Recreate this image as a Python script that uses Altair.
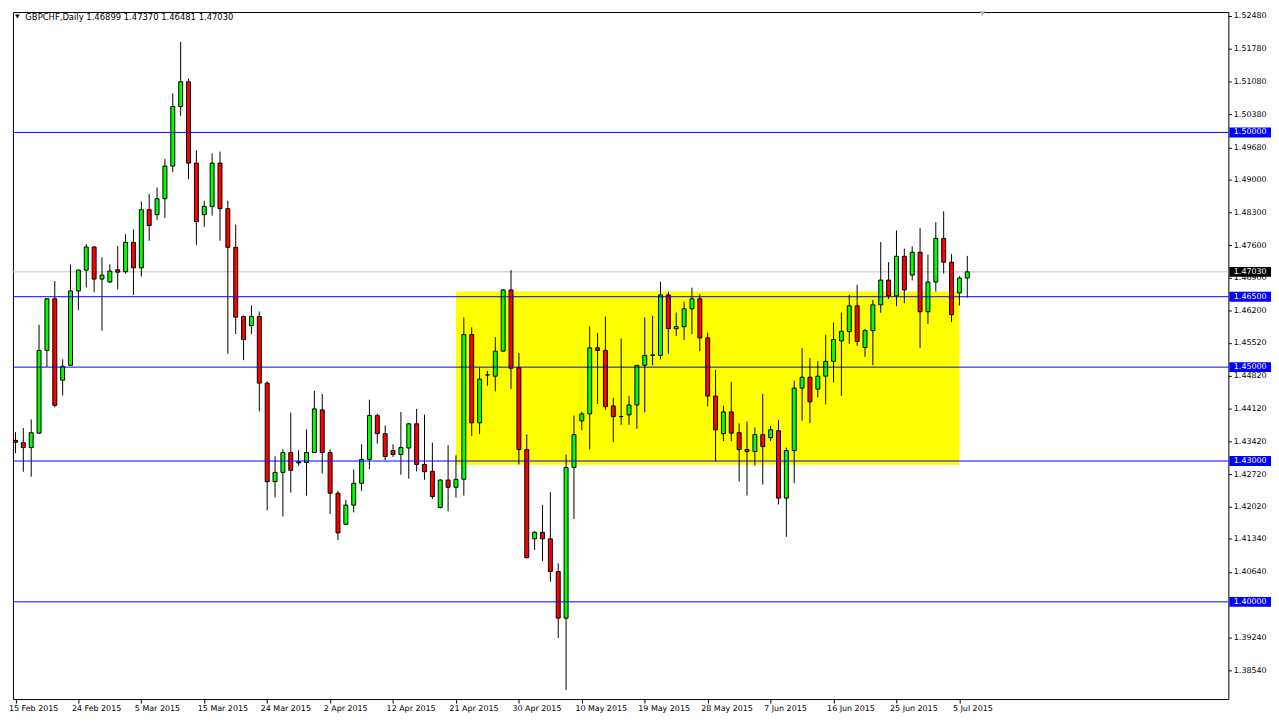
import json
import altair as alt
import pandas as pd

symbol = "GBPCHF"
timeframe = "Daily"

opens = [1.43440, 1.43392, 1.43286, 1.43594, 1.45356, 1.46455, 1.44722, 1.45039, 1.46623, 1.47067,
         1.47559, 1.46876, 1.46813, 1.47073, 1.47031, 1.47658, 1.47115, 1.48355, 1.48249, 1.48587,
         1.49284, 1.50551, 1.51079, 1.49347, 1.48249, 1.48425, 1.49347, 1.48376, 1.47552, 1.46080,
         1.45884, 1.46080, 1.44659, 1.42560, 1.42758, 1.43181, 1.42961, 1.42969, 1.43181, 1.44089,
         1.43181, 1.42314, 1.41652, 1.42061, 1.42526, 1.43033, 1.43968, 1.43582, 1.43223, 1.43138,
         1.43278, 1.43793, 1.42927, 1.42779, 1.42011, 1.42595, 1.42441, 1.42610, 1.45694, 1.43814,
         1.44834, 1.44807, 1.45341, 1.46644, 1.44988, 1.43244, 1.41343, 1.41482, 1.41343, 1.40646,
         1.39653, 1.42864, 1.43856, 1.44004, 1.45411, 1.45356, 1.44173, 1.43947, 1.43983, 1.44194,
         1.45039, 1.45250, 1.45250, 1.46538, 1.45820, 1.45863, 1.46243, 1.46455, 1.45622, 1.44384,
         1.43582, 1.44046, 1.43603, 1.43244, 1.43202, 1.43561, 1.43497, 1.43645, 1.42209, 1.43223,
         1.44553, 1.44785, 1.44532, 1.44807, 1.45123, 1.45559, 1.45757, 1.46306, 1.45419, 1.45778,
         1.46327, 1.46855, 1.46517, 1.47362, 1.46961, 1.47447, 1.46180, 1.46813, 1.47742, 1.47236,
         1.46581, 1.46899]
highs = [1.43616, 1.43701, 1.43884, 1.45905, 1.46468, 1.46834, 1.45166, 1.47185, 1.47073, 1.47622,
         1.47580, 1.47341, 1.47193, 1.47580, 1.47833, 1.47932, 1.48530, 1.48693, 1.48826, 1.49438,
         1.50832, 1.51930, 1.51149, 1.49622, 1.48545, 1.49550, 1.49592, 1.48545, 1.48038, 1.46101,
         1.46313, 1.46186, 1.44693, 1.43102, 1.43250, 1.44031, 1.43229, 1.43673, 1.44497, 1.44427,
         1.43250, 1.42363, 1.42173, 1.42821, 1.43356, 1.44306, 1.44010, 1.43757, 1.43356, 1.44046,
         1.43814, 1.44110, 1.43989, 1.43392, 1.42610, 1.43335, 1.43123, 1.46059, 1.45848, 1.44988,
         1.44919, 1.45637, 1.46665, 1.47067, 1.45299, 1.43567, 1.41503, 1.42067, 1.42336, 1.40821,
         1.43138, 1.43968, 1.44053, 1.45869, 1.45727, 1.46080, 1.44348, 1.45609, 1.44390, 1.45045,
         1.46059, 1.46094, 1.46819, 1.46608, 1.46165, 1.46397, 1.46693, 1.46551, 1.45736, 1.44940,
         1.44180, 1.44686, 1.43799, 1.43842, 1.43715, 1.44427, 1.43751, 1.43877, 1.43286, 1.44707,
         1.45404, 1.45195, 1.45123, 1.45694, 1.45953, 1.46165, 1.46538, 1.46750, 1.45812, 1.46433,
         1.47664, 1.47236, 1.47911, 1.47523, 1.47573, 1.47960, 1.47396, 1.48087, 1.48319, 1.47411,
         1.46946, 1.47370]
lows = [1.43166, 1.42771, 1.42665, 1.43582, 1.45003, 1.44144, 1.44397, 1.45030, 1.46213, 1.46699,
        1.46593, 1.45778, 1.46800, 1.46657, 1.46995, 1.46538, 1.46931, 1.47692, 1.48135, 1.48177,
        1.49157, 1.50353, 1.49001, 1.47607, 1.47987, 1.48228, 1.47692, 1.45284, 1.45706, 1.45148,
        1.45706, 1.44059, 1.41947, 1.42222, 1.41820, 1.42327, 1.42897, 1.42264, 1.43170, 1.42737,
        1.41871, 1.41314, 1.41640, 1.41905, 1.42363, 1.42828, 1.43370, 1.43018, 1.43088, 1.42707,
        1.42623, 1.42779, 1.42602, 1.42188, 1.41983, 1.41927, 1.42222, 1.42264, 1.43531, 1.43575,
        1.44602, 1.44481, 1.45320, 1.44532, 1.42927, 1.40921, 1.41102, 1.40870, 1.40426, 1.39231,
        1.38124, 1.41765, 1.43657, 1.43244, 1.44215, 1.44089, 1.43405, 1.43772, 1.43772, 1.43687,
        1.44038, 1.45039, 1.45166, 1.45284, 1.45664, 1.45580, 1.45706, 1.45341, 1.44165, 1.42997,
        1.43426, 1.43426, 1.42560, 1.42264, 1.42906, 1.42496, 1.43426, 1.42074, 1.41385, 1.42526,
        1.43856, 1.43806, 1.44355, 1.44207, 1.44672, 1.44390, 1.45495, 1.45453, 1.45221, 1.45039,
        1.46158, 1.46455, 1.46298, 1.46361, 1.46847, 1.45411, 1.45918, 1.46608, 1.46995, 1.45960,
        1.46313, 1.46481]
closes = [1.43398, 1.43286, 1.43603, 1.45356, 1.46455, 1.44186, 1.45018, 1.46623, 1.47067, 1.47559,
          1.46876, 1.46961, 1.47046, 1.47024, 1.47658, 1.47115, 1.48355, 1.48017, 1.48587, 1.49284,
          1.50551, 1.51079, 1.49347, 1.48101, 1.48425, 1.49347, 1.48376, 1.47552, 1.46065, 1.45588,
          1.46080, 1.44659, 1.42560, 1.42758, 1.43181, 1.42800, 1.42982, 1.43181, 1.44110, 1.43181,
          1.42314, 1.41469, 1.42061, 1.42526, 1.43033, 1.43968, 1.43582, 1.43096, 1.43138, 1.43286,
          1.43793, 1.42927, 1.42771, 1.42243, 1.42595, 1.42441, 1.42610, 1.45694, 1.43814, 1.44743,
          1.44834, 1.45341, 1.46644, 1.44976, 1.43244, 1.40942, 1.41482, 1.41343, 1.40646, 1.39653,
          1.42864, 1.43561, 1.44004, 1.45411, 1.45356, 1.44158, 1.43947, 1.43947, 1.44194, 1.45039,
          1.45250, 1.45260, 1.46538, 1.45820, 1.45863, 1.46243, 1.46455, 1.45622, 1.44384, 1.43666,
          1.44046, 1.43594, 1.43244, 1.43202, 1.43561, 1.43307, 1.43666, 1.42209, 1.43223, 1.44553,
          1.44785, 1.44261, 1.44807, 1.45123, 1.45588, 1.45763, 1.46306, 1.45546, 1.45778, 1.46327,
          1.46855, 1.46517, 1.47362, 1.46644, 1.47447, 1.46180, 1.46813, 1.47742, 1.47236, 1.46116,
          1.46897, 1.47030]

tick_idx = list(range(0, 121, 8))
tick_labels = ["15 Feb 2015", "24 Feb 2015", "5 Mar 2015", "15 Mar 2015", "24 Mar 2015",
               "2 Apr 2015", "12 Apr 2015", "21 Apr 2015", "30 Apr 2015", "10 May 2015",
               "19 May 2015", "28 May 2015", "7 Jun 2015", "16 Jun 2015", "25 Jun 2015",
               "5 Jul 2015"]
price_ticks = [1.52480, 1.51780, 1.51080, 1.50380, 1.49680, 1.49000, 1.48300, 1.47600,
               1.46900, 1.46200, 1.45520, 1.44820, 1.44120, 1.43420, 1.42720, 1.42020,
               1.41340, 1.40640, 1.39240, 1.38540]
level_prices = [1.50000, 1.46500, 1.45000, 1.43000, 1.40000]
bid_price = [closes[-1]]
zone_x = [56, 120]
zone_y = [1.42919, 1.46609]

FONT = "DejaVu Sans"
FS = 8
BLUE = "#0000ff"
W, H = 1226, 693

x_scale = alt.Scale(domain=[0.3125, 153.5625], nice=False, zero=False)
y_scale = alt.Scale(domain=[1.379288, 1.525645], nice=False, zero=False)

label_js = json.dumps(tick_labels)
x_axis = alt.Axis(values=tick_idx, labelExpr=f"{label_js}[round(datum.value / 8)]",
                  title=None, grid=False, domain=False, tickSize=4, tickColor="black",
                  labelAlign="left", labelBaseline="top", labelPadding=2, labelOffset=-7,
                  labelFont=FONT, labelFontSize=FS, labelColor="black",
                  labelOverlap=False, labelFlush=False, labelBound=False)
y_axis = alt.Axis(orient="right", values=price_ticks, format=".5f", title=None,
                  grid=False, domain=False, tickSize=3, tickColor="black", labelPadding=2,
                  labelFont=FONT, labelFontSize=FS, labelColor="black",
                  labelOverlap=False, labelFlush=False, labelBound=False)

df = pd.DataFrame({"i": list(range(len(opens))), "open": opens, "high": highs,
                   "low": lows, "close": closes})
df["dir"] = ["up" if c >= o else "down" for o, c in zip(opens, closes)]

X = alt.X("i:Q", scale=x_scale, axis=x_axis)

zone_df = pd.DataFrame({"x0": [zone_x[0]], "x1": [zone_x[1]],
                        "y0": [zone_y[0]], "y1": [zone_y[1]]})
zone = alt.Chart(zone_df).mark_rect(color="#ffff00").encode(
    x=alt.X("x0:Q", scale=x_scale, axis=x_axis), x2="x1:Q",
    y=alt.Y("y0:Q", scale=y_scale, axis=y_axis), y2="y1:Q")

bid_df = pd.DataFrame({"price": bid_price, "label": [f"{p:.5f}" for p in bid_price]})
bid_line = alt.Chart(bid_df).mark_rule(color="#c0c0c0", strokeWidth=1).encode(
    y=alt.Y("price:Q", scale=y_scale, axis=y_axis))

wicks = alt.Chart(df).mark_rule(color="black", strokeWidth=1, clip=True).encode(
    x=X, y=alt.Y("low:Q", scale=y_scale, axis=y_axis), y2="high:Q")

bodies = alt.Chart(df).mark_bar(size=4, stroke="black", strokeWidth=1, clip=True,
                                opacity=1).encode(
    x=X, y=alt.Y("open:Q", scale=y_scale, axis=y_axis), y2="close:Q",
    color=alt.Color("dir:N", scale=alt.Scale(domain=["up", "down"],
                                             range=["#00ff00", "#ff0000"]), legend=None))

lv_df = pd.DataFrame({"price": level_prices, "label": [f"{p:.5f}" for p in level_prices]})
levels = alt.Chart(lv_df).mark_rule(color=BLUE, strokeWidth=1).encode(
    y=alt.Y("price:Q", scale=y_scale, axis=y_axis))

BOX_X = W + 22
TXT_X = W + 5.5
lv_box = alt.Chart(lv_df).mark_tick(orient="horizontal", size=42, thickness=10,
                                    color=BLUE, opacity=1).encode(
    y=alt.Y("price:Q", scale=y_scale, axis=y_axis), x=alt.value(BOX_X))
lv_txt = alt.Chart(lv_df).mark_text(align="left", baseline="middle", color="white",
                                    font=FONT, fontSize=FS).encode(
    y=alt.Y("price:Q", scale=y_scale, axis=y_axis), x=alt.value(TXT_X), text="label:N")

bid_box = alt.Chart(bid_df).mark_tick(orient="horizontal", size=42, thickness=10,
                                      color="black", opacity=1).encode(
    y=alt.Y("price:Q", scale=y_scale, axis=y_axis), x=alt.value(BOX_X))
bid_txt = alt.Chart(bid_df).mark_text(align="left", baseline="middle", color="white",
                                      font=FONT, fontSize=FS).encode(
    y=alt.Y("price:Q", scale=y_scale, axis=y_axis), x=alt.value(TXT_X), text="label:N")

header = f"{symbol},{timeframe}  " + " ".join(
    f"{v:.5f}" for v in (opens[-1], highs[-1], lows[-1], closes[-1]))
one = pd.DataFrame({"t": [header]})
title_tri = alt.Chart(one).mark_point(shape="triangle-down", filled=True, color="black",
                                      size=22, opacity=1).encode(
    x=alt.value(4.5), y=alt.value(4.5))
title_txt = alt.Chart(one).mark_text(align="left", baseline="middle", color="black",
                                     font=FONT, fontSize=8.5).encode(
    x=alt.value(12.5), y=alt.value(5), text="t:N")
shift_tri = alt.Chart(one).mark_point(shape="triangle-down", filled=True, color="#b0b0b0",
                                      size=30, opacity=1).encode(
    x=alt.value(978), y=alt.value(1.5))

chart = alt.layer(zone, bid_line, wicks, bodies, levels, lv_box, lv_txt, bid_box, bid_txt,
                  title_tri, title_txt, shift_tri).properties(
    width=W, height=H, padding=0, background="white"
).configure_view(stroke="black", strokeWidth=1)

chart.save("out.html", embed_options={"renderer": "svg", "actions": False})
